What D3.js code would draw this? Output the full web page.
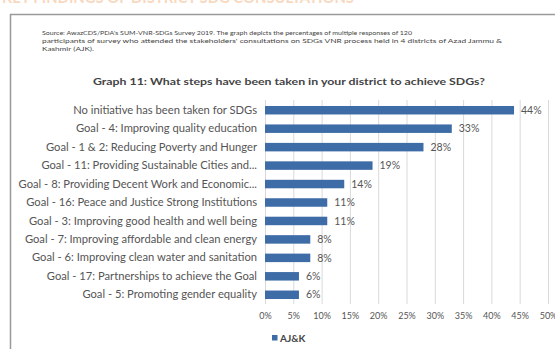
<!DOCTYPE html>
<html>
<head>
<meta charset="utf-8">
<script src="https://cdn.jsdelivr.net/npm/d3@7/dist/d3.min.js"></script>
<style>
  html, body { margin: 0; padding: 0; background: #fff; }
  svg { display: block; }
</style>
</head>
<body>
<svg id="chart" width="555" height="349"></svg>
<script>
// Survey responses: steps taken in the district towards the SDGs
const categories = [
  "No initiative has been taken for SDGs",
  "Goal - 4: Improving quality education",
  "Goal - 1 & 2: Reducing Poverty and Hunger",
  "Goal - 11: Providing Sustainable Cities and...",
  "Goal - 8: Providing Decent Work and Economic...",
  "Goal - 16: Peace and Justice Strong Institutions",
  "Goal - 3: Improving good health and well being",
  "Goal - 7: Improving affordable and clean energy",
  "Goal - 6: Improving clean water and sanitation",
  "Goal - 17: Partnerships to achieve the Goal",
  "Goal - 5: Promoting gender equality"
];
const values = [0.44, 0.33, 0.28, 0.19, 0.14, 0.11, 0.11, 0.08, 0.08, 0.06, 0.06];
const tickValues = [0, 0.05, 0.10, 0.15, 0.20, 0.25, 0.30, 0.35, 0.40, 0.45, 0.50];
const seriesName = "AJ&K";
const sourceLines = [
  "Source: AwazCDS/PDA's SUM-VNR-SDGs Survey 2019. The graph depicts the percentages of multiple responses of 120",
  "participants of survey who attended the stakeholders' consultations on SDGs VNR process held in 4 districts of Azad Jammu &",
  "Kashmir (AJK)."
];
const chartTitle = "Graph 11: What steps have been taken in your district to achieve SDGs?";
const pageHeading = "KEY FINDINGS OF DISTRICT SDG CONSULTATIONS";

const svg = d3.select("#chart");
const barColor = "#3d6ca6";
const textColor = "#555";
const font = "Lato, 'Open Sans', 'Liberation Sans', sans-serif";

// page heading running off the top edge
svg.append("text")
  .attr("x", 2).attr("y", 3)
  .attr("font-family", font).attr("font-weight", 700)
  .attr("font-size", 16).attr("fill", "#f0a060").attr("opacity", 0.4)
  .attr("textLength", 352).attr("lengthAdjust", "spacingAndGlyphs")
  .text(pageHeading);

// framed box
svg.append("rect")
  .attr("x", 12).attr("y", 16).attr("width", 560).attr("height", 360)
  .attr("fill", "none").attr("stroke", "#e4e4e4").attr("stroke-width", 2);
svg.append("rect")
  .attr("x", 10.5).attr("y", 14.5).attr("width", 560).attr("height", 360)
  .attr("fill", "#fff").attr("stroke", "#9a9a9a").attr("stroke-width", 1.5);

// source note
const srcWidths = [370, 460, 52];
svg.append("g").selectAll("text")
  .data(sourceLines)
  .join("text")
  .attr("x", 42)
  .attr("y", (d, i) => 35 + i * 8.2)
  .attr("font-family", font).attr("font-size", 6.2).attr("fill", "#444")
  .attr("textLength", (d, i) => srcWidths[i])
  .attr("lengthAdjust", "spacingAndGlyphs")
  .text(d => d);

// chart title
svg.append("text")
  .attr("x", 93).attr("y", 85)
  .attr("font-family", font).attr("font-weight", 700)
  .attr("font-size", 10).attr("fill", "#444")
  .attr("textLength", 392).attr("lengthAdjust", "spacingAndGlyphs")
  .text(chartTitle);

// scales
const x = d3.scaleLinear().domain([0, 0.5]).range([265, 548]);
const y = d3.scaleBand().domain(categories).range([101, 304])
  .paddingInner(0.54).paddingOuter(0.27);

// gridlines and percent axis
const xAxis = svg.append("g")
  .attr("transform", "translate(0,304)")
  .call(d3.axisBottom(x)
    .tickValues(tickValues)
    .tickFormat(d3.format(".0%"))
    .tickSize(-204)
    .tickPadding(9));
xAxis.select(".domain").remove();
xAxis.selectAll(".tick line").attr("stroke", "#d9d9d9").attr("stroke-width", 1);
xAxis.selectAll(".tick text")
  .attr("font-family", font).attr("font-size", 9).attr("fill", textColor);

// bars
svg.append("g").selectAll("rect")
  .data(values)
  .join("rect")
  .attr("x", x(0))
  .attr("y", (d, i) => y(categories[i]))
  .attr("width", d => x(d) - x(0))
  .attr("height", y.bandwidth())
  .attr("fill", barColor);

// value labels
svg.append("g").selectAll("text")
  .data(values)
  .join("text")
  .attr("x", d => x(d) + 7)
  .attr("y", (d, i) => y(categories[i]) + y.bandwidth() / 2)
  .attr("dy", "0.35em")
  .attr("font-family", font).attr("font-size", 10.5).attr("fill", textColor)
  .text(d => d3.format(".0%")(d));

// category labels
const yAxis = svg.append("g")
  .attr("transform", "translate(265,0)")
  .call(d3.axisLeft(y).tickSize(0).tickPadding(8));
yAxis.select(".domain").remove();
yAxis.selectAll(".tick text")
  .attr("font-family", font).attr("font-size", 11.2).attr("fill", textColor);

// legend
const legend = svg.append("g").attr("transform", "translate(272,340)");
legend.append("rect")
  .attr("x", 0).attr("y", -5).attr("width", 5.5).attr("height", 5.5)
  .attr("fill", barColor);
legend.append("text")
  .attr("x", 8).attr("y", 0).attr("dy", "0.15em")
  .attr("font-family", font).attr("font-size", 10).attr("font-weight", 700)
  .attr("fill", "#444")
  .text(seriesName);
</script>
</body>
</html>
